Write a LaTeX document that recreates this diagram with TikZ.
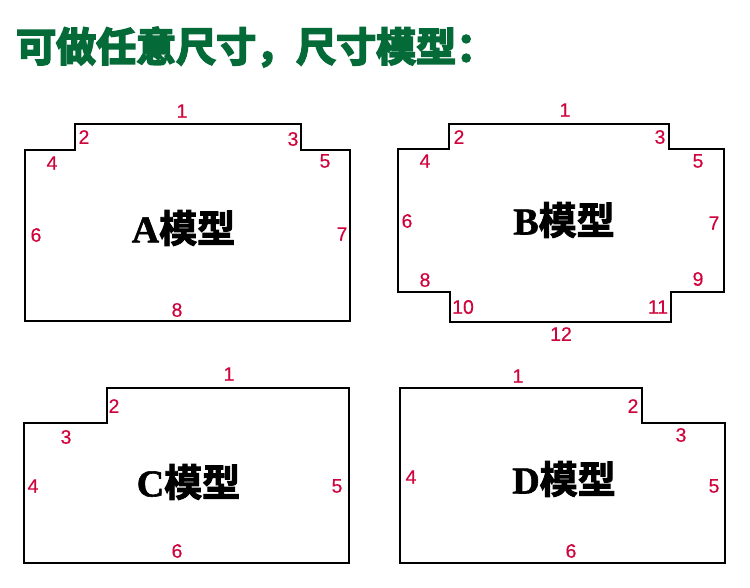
\documentclass[tikz,border=0pt]{standalone}
\usepackage{fontspec}
\setmainfont{Liberation Serif}
\newfontfamily\titlefont[FakeBold=4.5]{Noto Sans CJK SC Bold}
\newfontfamily\cjkbold[FakeBold=2.5]{Noto Sans CJK SC Bold}
\newfontfamily\latinbold[FakeBold=1.5]{Liberation Serif Bold}
\newfontfamily\numfont[FakeBold=0.4]{Liberation Sans}
\definecolor{titlegreen}{HTML}{046A38}
\definecolor{numred}{HTML}{D0043C}
\tikzset{
  x=1pt,y=-1pt,
  outline/.style={draw=black,line width=2.2pt,miter limit=10},
  num/.style={text=numred,font=\numfont\fontsize{19.5}{19.5}\selectfont,inner sep=0pt},
  model/.style={text=black,inner sep=0pt},
  heading/.style={text=titlegreen,inner sep=0pt,anchor=west,font=\titlefont\fontsize{40}{41}\selectfont}
}
\newcommand{\modelname}[1]{{\latinbold\fontsize{38}{38}\selectfont #1}{\cjkbold\fontsize{38}{38}\selectfont 模型}}
\begin{document}
\begin{tikzpicture}
\useasboundingbox (0,0) rectangle (750,587);
\node[heading] (title) at (16,47) {可做任意尺寸，尺寸模型：};
% A
\draw[outline] (25,150) -- (75,150) -- (75,124) -- (301,124) -- (301,150) -- (350,150) -- (350,321) -- (25,321) -- cycle;
\node[model] (mA) at (183.5,228) {\modelname{A}};
\foreach \n/\t/\px/\py in {a1/1/182/111,a2/2/84/137,a3/3/293/139,a4/4/52/163,a5/5/325/161,a6/6/36/235,a7/7/342/234,a8/8/177/310}
  \node[num] (\n) at (\px,\py) {\t};
% B
\draw[outline] (398,149) -- (449,149) -- (449,124) -- (669,124) -- (669,149) -- (724,149) -- (724,292) -- (671,292) -- (671,322) -- (450,322) -- (450,292) -- (398,292) -- cycle;
\node[model] (mB) at (564,220) {\modelname{B}};
\foreach \n/\t/\px/\py in {b1/1/565/110,b2/2/459/137,b3/3/660/137,b4/4/425/161,b5/5/698/161,b6/6/407/221,b7/7/714/223,b8/8/425/280,b9/9/698/279,b10/10/463/307,b11/11/658/307,b12/12/561/334}
  \node[num] (\n) at (\px,\py) {\t};
% C
\draw[outline] (24,423) -- (107,423) -- (107,388) -- (349,388) -- (349,563) -- (24,563) -- cycle;
\node[model] (mC) at (188.5,482) {\modelname{C}};
\foreach \n/\t/\px/\py in {c1/1/229/374,c2/2/114/406,c3/3/66/437,c4/4/33/486,c5/5/337/486,c6/6/177/551}
  \node[num] (\n) at (\px,\py) {\t};
% D
\draw[outline] (400,388) -- (642,388) -- (642,423) -- (725,423) -- (725,563) -- (400,563) -- cycle;
\node[model] (mD) at (564,479) {\modelname{D}};
\foreach \n/\t/\px/\py in {d1/1/518/376,d2/2/633/406,d3/3/681/435,d4/4/411/477,d5/5/714/486,d6/6/571/551}
  \node[num] (\n) at (\px,\py) {\t};
\end{tikzpicture}
\end{document}
